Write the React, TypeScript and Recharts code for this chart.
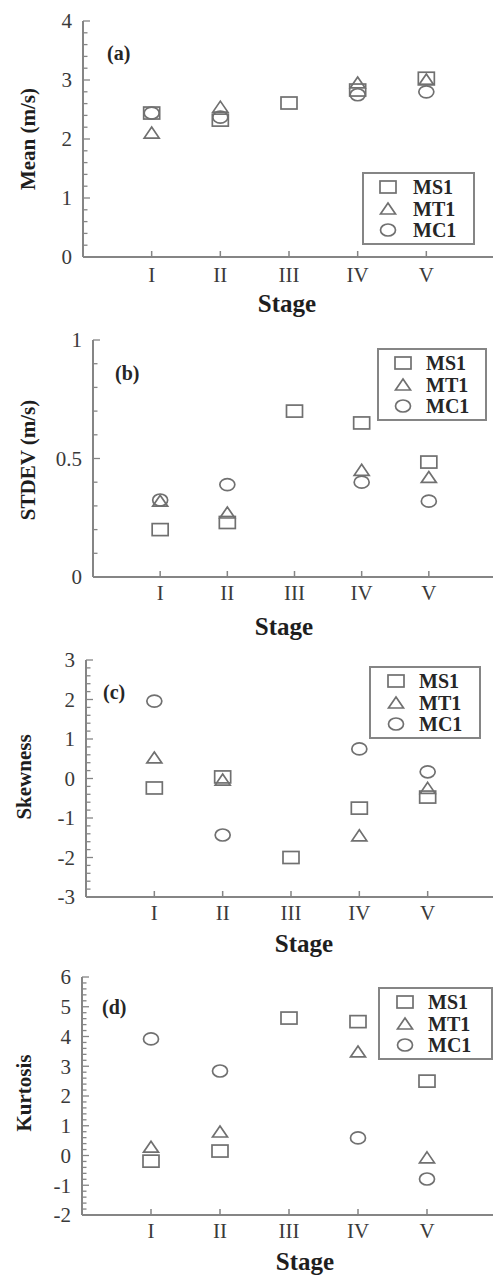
import React from 'react';
import { ScatterChart, Scatter, XAxis, YAxis, Legend } from 'recharts';

// stage categories, plotted at x = 1..5
const stages = ['I', 'II', 'III', 'IV', 'V'];
const seriesNames = ['MS1', 'MT1', 'MC1'];

const meanMS1 = [2.44, 2.32, 2.61, 2.83, 3.03];
const meanMT1 = [2.1, 2.54, null, 2.95, 3.0];
const meanMC1 = [2.44, 2.37, null, 2.75, 2.8];

const stdMS1 = [0.2, 0.23, 0.7, 0.65, 0.485];
const stdMT1 = [0.32, 0.27, null, 0.45, 0.42];
const stdMC1 = [0.325, 0.39, null, 0.4, 0.32];

const skewMS1 = [-0.24, 0.04, -2.0, -0.75, -0.47];
const skewMT1 = [0.52, -0.04, null, -1.45, -0.25];
const skewMC1 = [1.96, -1.43, null, 0.75, 0.17];

const kurtMS1 = [-0.19, 0.15, 4.62, 4.5, 2.5];
const kurtMT1 = [0.28, 0.79, null, 3.48, -0.08];
const kurtMC1 = [3.92, 2.84, null, 0.59, -0.79];

const meanTicks = [0, 1, 2, 3, 4];
const stdTicks = [0, 0.5, 1];
const skewTicks = [-3, -2, -1, 0, 1, 2, 3];
const kurtTicks = [-2, -1, 0, 1, 2, 3, 4, 5, 6];

const AXIS = '#858585';
const TICK = '#858585';
const MARK = '#707070';
const FONT = "'Liberation Serif', 'Times New Roman', serif";
const PAD = 20;
const CHART_W = 500;

const toPoints = (vals: (number | null)[]) =>
  vals
    .map((v, i) => (v === null ? null : { x: i + 1, y: v }))
    .filter(Boolean) as { x: number; y: number }[];

const minorTicks = (min: number, max: number, step: number) => {
  const out: number[] = [];
  const n = Math.round((max - min) / step);
  for (let i = 0; i <= n; i++) out.push(Math.round((min + i * step) * 1000) / 1000);
  return out;
};

const shapeFor: Record<string, string> = { MS1: 'square', MT1: 'triangle', MC1: 'circle' };

const Marker = ({ cx, cy, kind }: { cx: number; cy: number; kind: string }) => {
  if (kind === 'square')
    return <rect x={cx - 8} y={cy - 6} width={16} height={12} fill="none" stroke={MARK} strokeWidth={1.7} />;
  if (kind === 'triangle')
    return (
      <polygon
        points={`${cx},${cy - 6} ${cx + 7.5},${cy + 5} ${cx - 7.5},${cy + 5}`}
        fill="none"
        stroke={MARK}
        strokeWidth={1.7}
      />
    );
  return <ellipse cx={cx} cy={cy} rx={7.5} ry={6} fill="none" stroke={MARK} strokeWidth={1.7} />;
};

const panels = [
  {
    tag: '(a)', yLabel: 'Mean (m/s)', series: [meanMS1, meanMT1, meanMC1], ticks: meanTicks, step: 0.2,
    plotTop: 21, left: 83, plotW: 412, plotH: 236, labelX: 28, labelY: 139, stageX: 287, numDy: 25, stageDy: 55,
    tagX: 107, tagY: 53, legend: { x: 362, y: 172, w: 113, h: 73, sx: 26, tx: 51 },
  },
  {
    tag: '(b)', yLabel: 'STDEV (m/s)', series: [stdMS1, stdMT1, stdMC1], ticks: stdTicks, step: 0.1,
    plotTop: 340, left: 93, plotW: 403, plotH: 237, labelX: 28, labelY: 460, stageX: 284, numDy: 23, stageDy: 58,
    tagX: 115, tagY: 373, legend: { x: 377, y: 348, w: 110, h: 73, sx: 26, tx: 49 },
  },
  {
    tag: '(c)', yLabel: 'Skewness', series: [skewMS1, skewMT1, skewMC1], ticks: skewTicks, step: 0.2,
    plotTop: 660, left: 86, plotW: 410, plotH: 237, labelX: 24, labelY: 777, stageX: 304, numDy: 23, stageDy: 55,
    tagX: 103, tagY: 692, legend: { x: 369, y: 666, w: 112, h: 73, sx: 27, tx: 50 },
  },
  {
    tag: '(d)', yLabel: 'Kurtosis', series: [kurtMS1, kurtMT1, kurtMC1], ticks: kurtTicks, step: 0.2,
    plotTop: 977, left: 82, plotW: 414, plotH: 238, labelX: 24, labelY: 1093, stageX: 305, numDy: 23, stageDy: 55,
    tagX: 102, tagY: 1007, legend: { x: 378, y: 987, w: 115, h: 73, sx: 27, tx: 50 },
  },
];

const Panel = ({ p }: { p: (typeof panels)[number] }) => {
  const chartTop = p.plotTop - PAD;
  const chartH = PAD + p.plotH + 70;
  const yMin = p.ticks[0];
  const yMax = p.ticks[p.ticks.length - 1];
  const allTicks = minorTicks(yMin, yMax, p.step);
  const isMajor = (v: number) => p.ticks.some((t) => Math.abs(t - v) < 1e-6);
  // plot edges in chart coordinates
  const plotLeft = p.left;
  const plotRight = p.left + p.plotW;
  const plotTopY = PAD;
  const plotBottom = PAD + p.plotH;

  const leftTick = ({ y, payload }: any) => {
    const major = isMajor(payload.value);
    return (
      <g>
        <line x1={plotLeft} x2={plotLeft + (major ? 7 : 4.5)} y1={y} y2={y} stroke={TICK} strokeWidth={1.3} />
        {major && (
          <text x={plotLeft - 11} y={y} dy="0.35em" textAnchor="end" fontFamily={FONT} fontSize={21} fill="#3a3a3a">
            {payload.value}
          </text>
        )}
      </g>
    );
  };
  const rightTick = ({ y, payload }: any) => {
    const major = isMajor(payload.value);
    return <line x1={plotRight} x2={plotRight - (major ? 7 : 4.5)} y1={y} y2={y} stroke={TICK} strokeWidth={1.3} />;
  };
  const bottomTick = ({ x, payload }: any) => (
    <g>
      <line x1={x} x2={x} y1={plotBottom} y2={plotBottom - 6} stroke={TICK} strokeWidth={1.5} />
      <text x={x} y={plotBottom + p.numDy} textAnchor="middle" fontFamily={FONT} fontSize={21} fill="#3a3a3a">
        {stages[payload.value - 1]}
      </text>
    </g>
  );
  const topTick = ({ x }: any) => (
    <line x1={x} x2={x} y1={plotTopY} y2={plotTopY + 6} stroke={TICK} strokeWidth={1.5} />
  );

  const lg = p.legend;
  const legendContent = ({ payload }: any) => {
    const entries = seriesNames.filter((n) => (payload || []).some((e: any) => e.value === n));
    return (
      <div
        style={{
          boxSizing: 'border-box', width: lg.w, height: lg.h, border: `2px solid ${AXIS}`, background: '#fff',
          position: 'relative',
        }}
      >
        {entries.map((name, i) => (
          <div key={name} style={{ position: 'absolute', left: 0, top: 15 + i * 21.5 - 2, height: 0 }}>
            <svg width={30} height={20} style={{ position: 'absolute', left: lg.sx - 15 - 2, top: -10 }}>
              <Marker cx={15} cy={10} kind={shapeFor[name]} />
            </svg>
            <span
              style={{
                position: 'absolute', left: lg.tx - 2, top: -12, fontFamily: FONT, fontWeight: 'bold',
                fontSize: 20, lineHeight: '24px', color: '#262626', whiteSpace: 'nowrap',
              }}
            >
              {name}
            </span>
          </div>
        ))}
      </div>
    );
  };

  return (
    <div style={{ position: 'absolute', left: 0, top: chartTop }}>
      <ScatterChart
        width={CHART_W}
        height={chartH}
        margin={{ top: PAD, right: CHART_W - p.left - p.plotW, bottom: 0, left: 0 }}
      >
        <XAxis
          type="number" dataKey="x" domain={[0, 6]} ticks={[1, 2, 3, 4, 5]} interval={0} height={70}
          tickLine={false} tick={bottomTick}
          axisLine={{ stroke: AXIS, strokeWidth: 2 }}
          label={{
            content: () => (
              <text x={p.stageX} y={plotBottom + p.stageDy} textAnchor="middle" fontFamily={FONT}
                fontWeight="bold" fontSize={25} fill="#1e1e1e">Stage</text>
            ),
          }}
        />
        <XAxis
          xAxisId="top" orientation="top" type="number" dataKey="x" domain={[0, 6]} ticks={[1, 2, 3, 4, 5]}
          interval={0} height={0} tickLine={false} tick={topTick}
          axisLine={{ stroke: AXIS, strokeWidth: 2 }}
        />
        <YAxis
          type="number" dataKey="y" domain={[yMin, yMax]} ticks={allTicks} interval={0} width={p.left}
          tickLine={false} tick={leftTick}
          axisLine={{ stroke: AXIS, strokeWidth: 2 }}
          label={{
            content: () => (
              <text
                x={p.labelX} y={p.labelY - chartTop} textAnchor="middle" dominantBaseline="central"
                transform={`rotate(-90 ${p.labelX} ${p.labelY - chartTop})`} fontFamily={FONT}
                fontWeight="bold" fontSize={21} fill="#1e1e1e"
              >
                {p.yLabel}
              </text>
            ),
          }}
        />
        <YAxis
          yAxisId="right" orientation="right" type="number" domain={[yMin, yMax]} ticks={allTicks} interval={0}
          width={0} tickLine={false} tick={rightTick}
          axisLine={{ stroke: AXIS, strokeWidth: 2 }}
        />
        <Legend
          layout="vertical" align="center" verticalAlign="middle" content={legendContent}
          wrapperStyle={{ left: lg.x, top: lg.y - chartTop, width: lg.w, height: lg.h }}
        />
        {seriesNames.map((name, i) => (
          <Scatter
            key={name}
            name={name}
            data={toPoints(p.series[i])}
            isAnimationActive={false}
            shape={(s: any) => <Marker cx={s.cx} cy={s.cy} kind={shapeFor[name]} />}
          />
        ))}
      </ScatterChart>
      <div
        style={{
          position: 'absolute', left: p.tagX, top: p.tagY - chartTop - 11, fontFamily: FONT, fontWeight: 'bold',
          fontSize: 20, lineHeight: '22px', color: '#262626',
        }}
      >
        {p.tag}
      </div>
    </div>
  );
};

export default function App() {
  return (
    <div style={{ position: 'absolute', left: 0, top: 0, width: 493, height: 1277, overflow: 'hidden', background: '#fff' }}>
      {panels.map((p) => (
        <Panel key={p.tag} p={p} />
      ))}
    </div>
  );
}
